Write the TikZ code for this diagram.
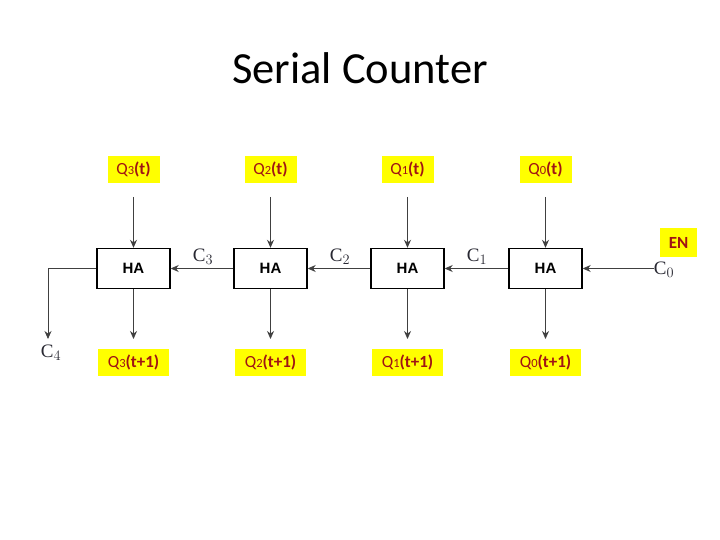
\documentclass[tikz,border=0pt]{standalone}
\usepackage{fontspec}
\setmainfont{Carlito}
\newfontfamily\arialf{Liberation Sans}
\newfontfamily\timesf{Liberation Serif}
\usetikzlibrary{arrows.meta}
\definecolor{qred}{RGB}{160,20,20}
\definecolor{ylw}{RGB}{255,255,0}
\definecolor{cgray}{RGB}{40,40,50}
\tikzset{
  qlab/.style={fill=ylw, text=qred, font=\fontsize{17}{19}\selectfont, inner sep=0pt, minimum height=27pt, minimum width=52pt},
  qlabw/.style={qlab, minimum width=71pt},
  habox/.style={draw=black, line width=1.4pt, minimum width=73pt, minimum height=40pt, inner sep=0pt, font=\arialf\bfseries\fontsize{15}{17}\selectfont},
  conn/.style={draw=black!75, line width=0.8pt, -{Stealth[length=8pt,width=7pt]}},
  clab/.style={text=cgray, font=\timesf\fontsize{19}{21}\selectfont, inner sep=0pt},
}
\newcommand{\ql}[2]{Q{\fontsize{12.5}{14}\selectfont#1}\textbf{#2}}
\begin{document}
\begin{tikzpicture}[x=1pt,y=-1pt]
\useasboundingbox (0,0) rectangle (720,540);
\node[font=\fontsize{44.5}{48}\selectfont] (title) at (360,68) {Serial Counter};

\foreach \i/\x in {3/133.5,2/270.5,1/407.5,0/545.5}{
  \node[habox] (ha\i) at (\x,268.5) {HA};
  \node[qlab] (qt\i) at (\x,169.5) {\ql{\i}{(t)}};
  \node[qlabw] (qn\i) at (\x,362.5) {\ql{\i}{(t+1)}};
  \coordinate (ti\i) at (\x,197);
  \coordinate (bo\i) at (\x,339);
  \draw[conn] (ti\i) -- (ha\i.north);
  \draw[conn] (ha\i.south) -- (bo\i);
}
\draw[conn] (ha2.west) -- (ha3.east);
\draw[conn] (ha1.west) -- (ha2.east);
\draw[conn] (ha0.west) -- (ha1.east);
\coordinate (cin) at (654,268.5);
\draw[conn] (cin) -- (ha0.east);
\coordinate (cout) at (48,339);
\draw[conn] (ha3.west) -| (cout);

\node[clab] (c3) at (203,257) {C$_3$};
\node[clab] (c2) at (340,257) {C$_2$};
\node[clab] (c1) at (477,257) {C$_1$};
\node[clab] (c0) at (664,270) {C$_0$};
\node[clab] (c4) at (51,353) {C$_4$};
\node[qlab, minimum width=37pt, minimum height=29pt, font=\bfseries\fontsize{17}{19}\selectfont] (en) at (678.5,242.5) {EN};
\end{tikzpicture}
\end{document}
